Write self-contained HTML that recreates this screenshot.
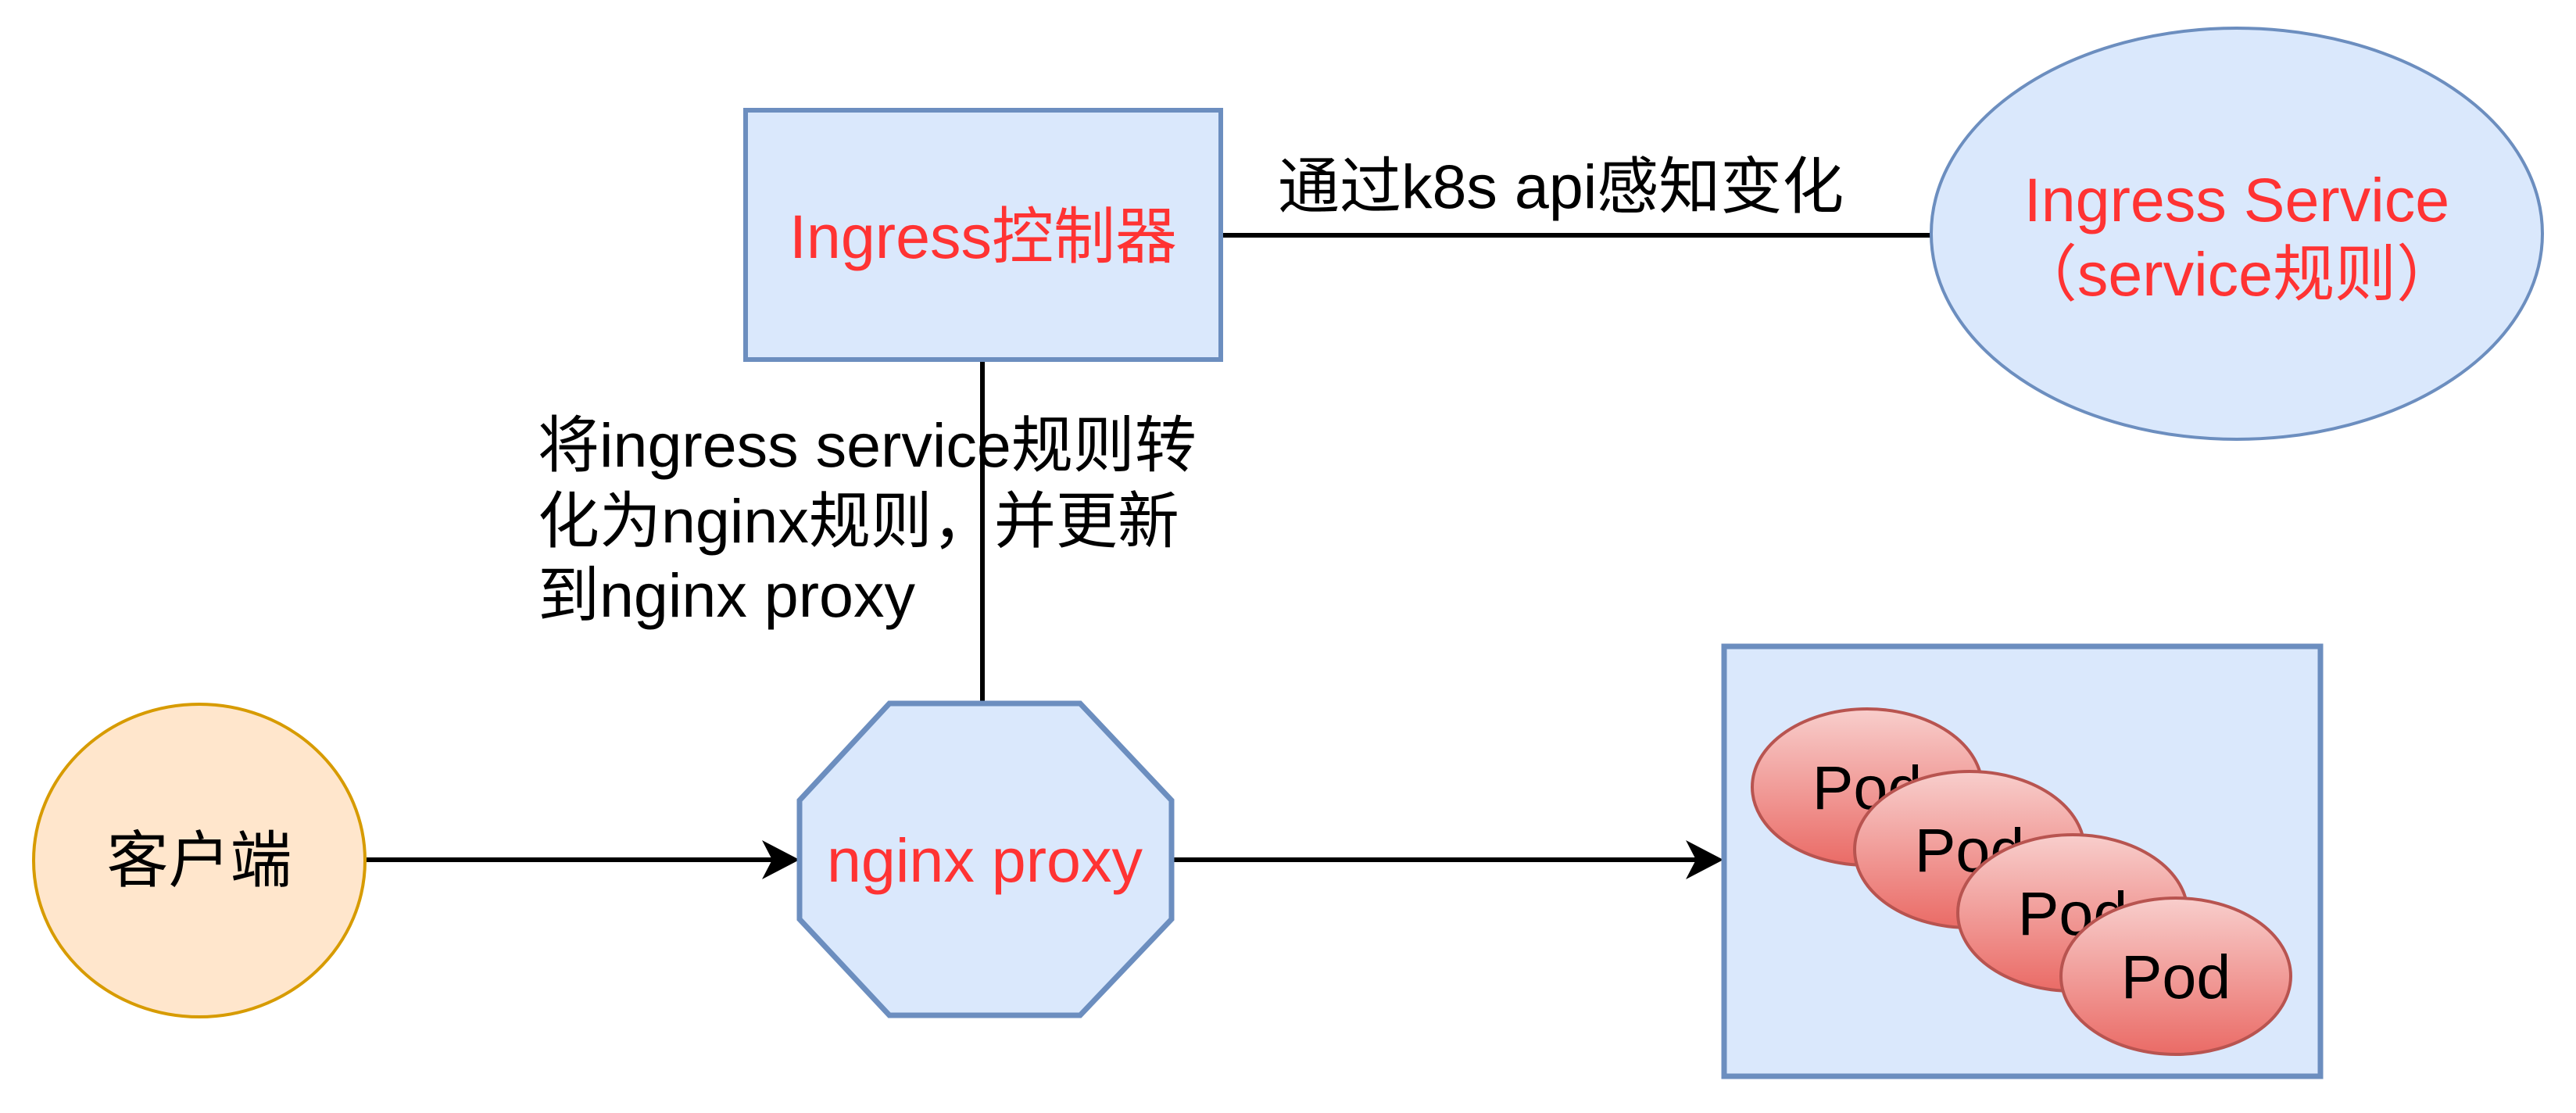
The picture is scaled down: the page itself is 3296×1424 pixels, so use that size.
<!DOCTYPE html>
<html><head><meta charset="utf-8"><style>
html,body{margin:0;padding:0;background:#fff;}
svg{display:block;}
text{font-family:"Liberation Sans","Noto Sans CJK SC",sans-serif;font-size:79px;}
</style></head><body>
<svg width="3296" height="1424" viewBox="0 0 3296 1424" xmlns="http://www.w3.org/2000/svg">
<defs>
<linearGradient id="pg" x1="0" y1="0" x2="0" y2="1">
<stop offset="0" stop-color="#f8cecc"/><stop offset="1" stop-color="#ea6b66"/>
</linearGradient>
</defs>
<!-- connectors -->
<line x1="1562" y1="301" x2="2474" y2="301" stroke="#000" stroke-width="6"/>
<line x1="1257" y1="460" x2="1257" y2="900" stroke="#000" stroke-width="6"/>
<line x1="469" y1="1100" x2="990" y2="1100" stroke="#000" stroke-width="6"/>
<path d="M1023 1100 L975 1075 L988 1100 L975 1125 Z" fill="#000"/>
<line x1="1499" y1="1100" x2="2170" y2="1100" stroke="#000" stroke-width="6"/>
<path d="M2205 1100 L2157 1075 L2170 1100 L2157 1125 Z" fill="#000"/>

<!-- Ingress controller -->
<rect x="954" y="141" width="608" height="319" fill="#dae8fc" stroke="#6c8ebf" stroke-width="6"/>
<text x="1258" y="330" fill="#ff3333" text-anchor="middle">Ingress控制器</text>

<text x="1635" y="266" fill="#000">通过k8s api感知变化</text>

<!-- Ingress service ellipse -->
<ellipse cx="2862" cy="299" rx="391" ry="263" fill="#dae8fc" stroke="#6c8ebf" stroke-width="4"/>
<text x="2862" y="283" fill="#ff3333" text-anchor="middle">Ingress Service</text>
<text x="2862" y="378" fill="#ff3333" text-anchor="middle">（service规则）</text>

<!-- label -->
<text x="688" y="597" fill="#000">将ingress service规则转</text>
<text x="688" y="694" fill="#000">化为nginx规则，并更新</text>
<text x="688" y="789" fill="#000">到nginx proxy</text>

<!-- client -->
<ellipse cx="255" cy="1101" rx="212" ry="200" fill="#ffe6cc" stroke="#d79b00" stroke-width="4"/>
<text x="255" y="1128" fill="#000" text-anchor="middle">客户端</text>

<!-- nginx proxy octagon -->
<polygon points="1138,900 1382,900 1499,1024 1499,1176 1382,1299 1138,1299 1023,1176 1023,1024" fill="#dae8fc" stroke="#6c8ebf" stroke-width="7"/>
<text x="1260" y="1128" fill="#ff3333" text-anchor="middle">nginx proxy</text>

<!-- pods container -->
<rect x="2206" y="827" width="763" height="550" fill="#dae8fc" stroke="#6c8ebf" stroke-width="7"/>
<g stroke="#b85450" stroke-width="4" fill="url(#pg)">
<ellipse cx="2389" cy="1007" rx="147" ry="100"/>
</g>
<text x="2389" y="1035" text-anchor="middle" fill="#000">Pod</text>
<g stroke="#b85450" stroke-width="4" fill="url(#pg)">
<ellipse cx="2520" cy="1087" rx="147" ry="100"/>
</g>
<text x="2520" y="1115" text-anchor="middle" fill="#000">Pod</text>
<g stroke="#b85450" stroke-width="4" fill="url(#pg)">
<ellipse cx="2652" cy="1168" rx="147" ry="100"/>
</g>
<text x="2652" y="1196" text-anchor="middle" fill="#000">Pod</text>
<g stroke="#b85450" stroke-width="4" fill="url(#pg)">
<ellipse cx="2784" cy="1249" rx="147" ry="100"/>
</g>
<text x="2784" y="1277" text-anchor="middle" fill="#000">Pod</text>
</svg>
</body></html>
